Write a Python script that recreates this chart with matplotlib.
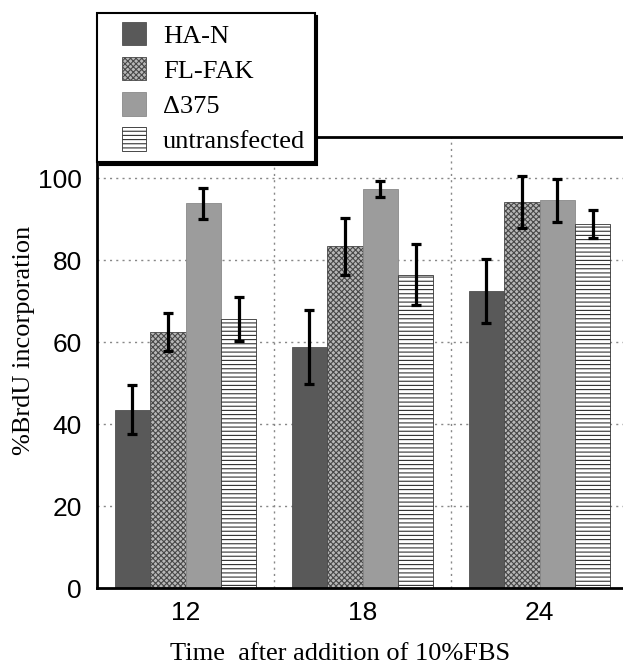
import numpy as np
import matplotlib.pyplot as plt
import matplotlib as mpl
from matplotlib.patches import Rectangle
from matplotlib.legend_handler import HandlerPatch


times = ["12", "18", "24"]

series_names = ["HA-N", "FL-FAK", "\u0394375", "untransfected"]

han_vals = [43.5, 58.8, 72.4]
han_errs = [6.0, 9.0, 7.8]

flfak_vals = [62.4, 83.4, 94.2]
flfak_errs = [4.6, 7.0, 6.4]

d375_vals = [93.9, 97.3, 94.6]
d375_errs = [3.8, 2.0, 5.2]

untr_vals = [65.7, 76.5, 88.8]
untr_errs = [5.4, 7.5, 3.5]


def square_patch(legend, orig_handle, xdescent, ydescent, width, height,
                 fontsize):
    '''
    square legend key pushed to the right end of the handle box
    '''

    side = 0.9 * fontsize

    return Rectangle(
        (-xdescent + width - side, -ydescent + (height - side) / 2),
        side,
        side,
    )


def main():
    '''
    grouped bar chart of BrdU incorporation with error bars
    '''

    mpl.rcParams["hatch.linewidth"] = 0.8

    serif = ["Liberation Serif", "DejaVu Serif"]
    sans = ["Liberation Sans", "DejaVu Sans"]

    fig = plt.figure(figsize=(6.23, 6.66), dpi=100)

    ax = fig.add_axes([0.1557, 0.117, 0.844, 0.677])

    x_arr = np.arange(len(times))
    width = 0.2

    values = [han_vals, flfak_vals, d375_vals, untr_vals]
    errors = [han_errs, flfak_errs, d375_errs, untr_errs]

    styles = [
        dict(facecolor="#595959", hatch=None, edge="#505050"),
        dict(facecolor="#b8b8b8", hatch="xxxxxx", edge="#484848"),
        dict(facecolor="#9c9c9c", hatch=None, edge="#8a8a8a"),
        dict(facecolor="white", hatch="----", edge="#333333"),
    ]

    handles = []

    for k in range(4):

        offset = (k - 1.5) * width

        bars = ax.bar(
            x_arr + offset,
            values[k],
            width=width,
            facecolor=styles[k]["facecolor"],
            edgecolor=styles[k]["edge"],
            hatch=styles[k]["hatch"],
            linewidth=0.6,
            label=series_names[k],
            zorder=2,
        )

        handles.append(bars.patches[0])

        ax.errorbar(
            x_arr + offset,
            values[k],
            yerr=errors[k],
            fmt="none",
            ecolor="black",
            elinewidth=2.3,
            capsize=3.5,
            capthick=2.3,
            zorder=3,
        )

    ax.set_xlim(-0.5, 2.47)
    ax.set_ylim(0, 110)

    ax.set_yticks([0, 20, 40, 60, 80, 100])
    ax.set_xticks(x_arr)
    ax.set_xticklabels(times)

    for lab in ax.get_xticklabels() + ax.get_yticklabels():
        lab.set_family(sans)
        lab.set_fontsize(19)

    ax.tick_params(axis="y", length=0, pad=11)
    ax.tick_params(axis="x", length=0, pad=9)

    for y in [20, 40, 60, 80, 100]:
        ax.axhline(y, color="#888888", linestyle=(0, (1.5, 3)),
                   linewidth=1, zorder=0)

    for x in [0.5, 1.5]:
        ax.axvline(x, color="#888888", linestyle=(0, (1.5, 3)),
                   linewidth=1, zorder=0)

    ax.spines["right"].set_visible(False)
    for side in ["left", "bottom", "top"]:
        ax.spines[side].set_linewidth(2)

    ax.set_ylabel("%BrdU incorporation", family=serif, fontsize=19)
    ax.set_xlabel("Time  after addition of 10%FBS", family=serif,
                  fontsize=19)

    ax.xaxis.set_label_coords(0.462, -0.122)
    ax.yaxis.set_label_coords(-0.117, 0.55)

    leg = fig.legend(
        handles,
        series_names,
        loc="upper left",
        bbox_to_anchor=(0.156, 0.98),
        frameon=True,
        fancybox=False,
        shadow={"color": "black", "alpha": 1},
        prop={"family": serif, "size": 19},
        handler_map={
            Rectangle: HandlerPatch(patch_func=square_patch),
        },
        handlelength=1.5,
        handleheight=0.9,
        handletextpad=0.65,
        labelspacing=0.38,
        borderpad=0.35,
        borderaxespad=0,
    )

    leg.get_frame().set_edgecolor("black")
    leg.get_frame().set_linewidth(1.5)
    leg.set_zorder(10)

    fig.savefig("out.png", dpi=100)


if __name__ == "__main__":

    main()
